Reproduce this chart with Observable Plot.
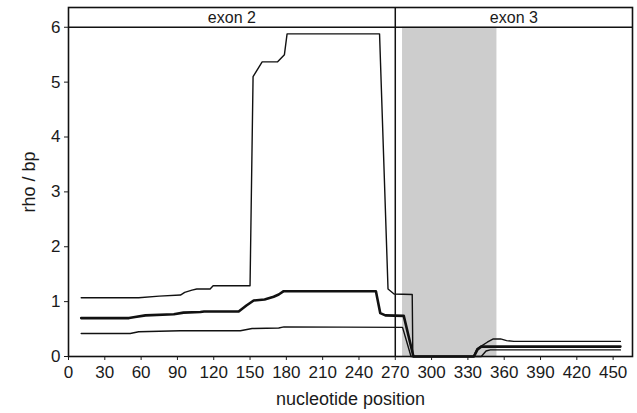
<!DOCTYPE html>
<html><head><meta charset="utf-8">
<script src="https://cdn.jsdelivr.net/npm/d3@7"></script>
<script src="https://cdn.jsdelivr.net/npm/@observablehq/plot@0.6"></script>
<style>
body{margin:0;background:#fff}
svg{display:block}
g[aria-label="x-axis label"] text, g[aria-label="y-axis label"] text{font-size:18px}
</style>
</head><body><div id="chart"></div>
<script>
// Series: estimated rho/bp along nucleotide position
const upperPos = [10.5, 58, 75, 92.5, 96, 102, 106, 117, 119.5, 150, 152.5, 160, 172.8, 178.4, 180.6, 257, 264, 269, 284, 284.5, 334.5, 337.5, 341, 346, 351, 357, 362, 368, 456];
const upperRho = [1.07, 1.07, 1.10, 1.12, 1.17, 1.21, 1.23, 1.23, 1.29, 1.29, 5.10, 5.37, 5.37, 5.50, 5.88, 5.88, 1.23, 1.14, 1.13, 0, 0, 0.14, 0.19, 0.26, 0.32, 0.32, 0.29, 0.275, 0.275];

const middlePos = [10.5, 50, 55, 63.6, 87, 95, 109, 112, 140.6, 147, 153, 162, 169.5, 173.7, 177.8, 254, 257.6, 261.8, 277, 285, 335, 338, 341, 456];
const middleRho = [0.70, 0.70, 0.72, 0.75, 0.77, 0.80, 0.81, 0.82, 0.82, 0.93, 1.02, 1.04, 1.09, 1.13, 1.19, 1.19, 0.79, 0.75, 0.74, 0, 0, 0.13, 0.18, 0.18];

const lowerPos = [10.5, 51, 58, 92.5, 142, 151.7, 173.7, 178, 276, 283, 341, 345, 348.5, 456];
const lowerRho = [0.42, 0.42, 0.45, 0.47, 0.47, 0.51, 0.52, 0.54, 0.53, 0, 0, 0.10, 0.12, 0.12];

const exonNames = ["exon 2", "exon 3"];
const exonStart = [0, 270];
const exonEnd = [270, 466];

const shadeStart = [276];
const shadeEnd = [354];

const xTicks = [0, 30, 60, 90, 120, 150, 180, 210, 240, 270, 300, 330, 360, 390, 420, 450];
const yTicks = [0, 1, 2, 3, 4, 5, 6];

const toRows = (pos, rho) => pos.map((p, i) => ({pos: p, rho: rho[i]}));
const upper = toRows(upperPos, upperRho);
const middle = toRows(middlePos, middleRho);
const lower = toRows(lowerPos, lowerRho);
const exons = exonNames.map((n, i) => ({name: n, start: exonStart[i], end: exonEnd[i]}));
const shade = shadeStart.map((s, i) => ({start: s, end: shadeEnd[i]}));

const chart = Plot.plot({
  width: 637, height: 413,
  marginLeft: 68, marginTop: 7, marginRight: 5, marginBottom: 57,
  style: {fontFamily: "Liberation Sans, Arial, sans-serif", fontSize: "17px", color: "#1a1a1a", background: "#fff"},
  x: {domain: [0, 466]},
  y: {domain: [0, 6.36]},
  marks: [
    Plot.rect(shade, {x1: "start", x2: "end", y1: 0, y2: 6, fill: "#cdcdcd"}),
    Plot.line(lower, {x: "pos", y: "rho", stroke: "#111", strokeWidth: 1.4}),
    Plot.line(middle, {x: "pos", y: "rho", stroke: "#111", strokeWidth: 2.6}),
    Plot.line(upper, {x: "pos", y: "rho", stroke: "#111", strokeWidth: 1.4}),
    Plot.ruleY([6], {stroke: "#111", strokeWidth: 1.5}),
    Plot.ruleX([270], {stroke: "#111", strokeWidth: 1.5}),
    Plot.text(exons, {x: d => (d.start + d.end) / 2, y: 6.18, text: "name", fontSize: 16, fill: "#1a1a1a"}),
    Plot.frame({stroke: "#111", strokeWidth: 1.6}),
    Plot.axisX({ticks: xTicks, tickSize: 4, tickPadding: 5, fontSize: 17, tickFormat: d => String(d), label: "nucleotide position", labelAnchor: "center", labelArrow: "none", labelOffset: 48}),
    Plot.axisY({ticks: yTicks, tickSize: 4, tickPadding: 4, fontSize: 17, tickFormat: d => String(d), label: "rho / bp", labelAnchor: "center", labelArrow: "none", labelOffset: 46})
  ]
});
document.getElementById("chart").appendChild(chart);
</script>
</body></html>
